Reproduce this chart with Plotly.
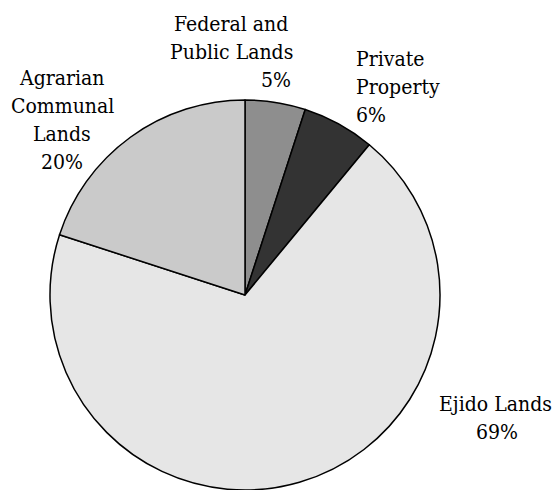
import plotly.graph_objects as go

# Land tenure shares (percent), clockwise from 12 o'clock
categories = ["Federal and Public Lands", "Private Property", "Ejido Lands", "Agrarian Communal Lands"]
shares = [5, 6, 69, 20]
slice_colors = ["#8e8e8e", "#333333", "#e6e6e6", "#cacaca"]

# Label lines drawn next to each slice (name lines, then the value line)
label_lines = {
    "Federal and Public Lands": ["Federal and", "Public Lands"],
    "Private Property": ["Private", "Property"],
    "Ejido Lands": ["Ejido Lands"],
    "Agrarian Communal Lands": ["Agrarian", "Communal", "Lands"],
}

W, H = 555, 490
FONT = "DejaVu Serif Condensed"
FS = 21
LINE = 28  # baseline-to-baseline spacing in px

# label block layout: anchor x (px), first baseline (px), alignment per line
label_layout = {
    "Federal and Public Lands": dict(x=231, y0=31, xa=["center", "center"], vx=293, vxa="right"),
    "Private Property": dict(x=354, y0=66, xa=["left", "left"], vx=354, vxa="left"),
    "Ejido Lands": dict(x=495, y0=411, xa=["center"], vx=497, vxa="center"),
    "Agrarian Communal Lands": dict(x=62, y0=85, xa=["center", "center", "center"], vx=62, vxa="center"),
}

fig = go.Figure(
    go.Pie(
        labels=categories,
        values=shares,
        sort=False,
        direction="clockwise",
        rotation=0,
        marker=dict(colors=slice_colors, line=dict(color="black", width=1.5)),
        textinfo="none",
        hoverinfo="label+percent",
        showlegend=False,
        domain=dict(x=[50 / W, 440 / W], y=[0, 390 / H]),
    )
)


def add_line(text, x_px, baseline_px, xanchor):
    # annotation box is centred a bit above the baseline
    fig.add_annotation(
        text=text,
        x=x_px / W,
        y=1 - (baseline_px - 0.32 * FS) / H,
        xref="paper",
        yref="paper",
        xanchor=xanchor,
        yanchor="middle",
        showarrow=False,
        font=dict(family=FONT, size=FS, color="black"),
    )


for cat, val in zip(categories, shares):
    spec = label_layout[cat]
    lines = label_lines[cat]
    for i, (txt, xa) in enumerate(zip(lines, spec["xa"])):
        add_line(txt, spec["x"], spec["y0"] + i * LINE, xa)
    add_line(f"{val}%", spec["vx"], spec["y0"] + len(lines) * LINE, spec["vxa"])

fig.update_layout(
    width=W,
    height=H,
    margin=dict(l=0, r=0, t=0, b=0),
    paper_bgcolor="white",
    plot_bgcolor="white",
    font=dict(family=FONT),
)

fig.write_html("out.html")
